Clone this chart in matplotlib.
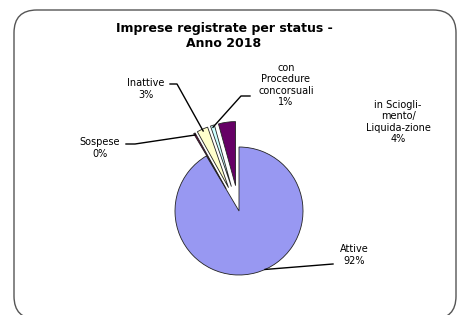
import numpy as np
import matplotlib
matplotlib.use('Agg')
import matplotlib.pyplot as plt
from matplotlib.patches import FancyBboxPatch

# data
labels = ['Attive', 'Sospese', 'Inattive', 'con\nProcedure\nconcorsuali',
          'in Sciogli-\nmento/\nLiquida-zione']
values = [91.5, 0.4, 2.8, 1.0, 4.3]
pct_text = ['92%', '0%', '3%', '1%', '4%']
colors = ['#9898F2', '#66003A', '#FFFFCC', '#CCFFFF', '#660066']
explode = [0, 0.4, 0.4, 0.4, 0.4]

plt.rcParams['font.family'] = ['DejaVu Sans']

fig = plt.figure(figsize=(4.57, 3.15), dpi=100)
ax = fig.add_axes([0, 0, 1, 1])

# pixel mapping: centre at (239, 211), radius 64 px
cx, cy, rpx = 239.0, 211.0, 64.0

wedges, _ = ax.pie(values, colors=colors, explode=explode, startangle=90,
                   counterclock=False, radius=1.0,
                   wedgeprops=dict(edgecolor='#222222', linewidth=0.6))
ax.set_aspect('auto')
ax.set_xlim(-cx / rpx, (457 - cx) / rpx)
ax.set_ylim((cy - 315) / rpx, cy / rpx)
ax.axis('off')

# rounded border (bottom runs just past the image edge)
box = FancyBboxPatch((14 / 457, -4 / 315), 442 / 457, 309 / 315,
                     boxstyle='round,pad=0,rounding_size=0.05',
                     transform=fig.transFigure, facecolor='none',
                     edgecolor='#555555', linewidth=1.0, clip_on=False,
                     mutation_aspect=457 / 315)
fig.patches.append(box)

fig.text(224 / 457, 1 - 36 / 315, 'Imprese registrate per status -\nAnno 2018',
         ha='center', va='center', fontsize=9, fontweight='bold',
         linespacing=1.15)


def px(x, y):
    return ((x - cx) / rpx, (cy - y) / rpx)


def wedge_pt(w, frac=0.95, ang=None):
    a = np.deg2rad((w.theta1 + w.theta2) / 2 if ang is None else ang)
    return (w.center[0] + frac * w.r * np.cos(a),
            w.center[1] + frac * w.r * np.sin(a))


fs = 7
# label positions (pixel) and leader elbows
lab_pos = {0: (354, 255), 1: (100, 148), 2: (146, 89), 3: (286, 85), 4: (398, 122)}
elbow = {0: [(333, 264)], 1: [(126, 144), (135, 144)], 2: [(170, 84), (177, 84)],
         3: [(250, 96), (241, 96)]}

for i, w in enumerate(wedges):
    x, y = px(*lab_pos[i])
    ax.text(x, y, labels[i] + '\n' + pct_text[i], ha='center', va='center',
            fontsize=fs, linespacing=1.15)
    if i in elbow:
        end = wedge_pt(w, 1.0, -66) if i == 0 else wedge_pt(w, 0.97)
        pts = [px(*p) for p in elbow[i]] + [end]
        xs, ys = zip(*pts)
        ax.plot(xs, ys, color='black', linewidth=1.0)

fig.savefig('out.png', dpi=100)
